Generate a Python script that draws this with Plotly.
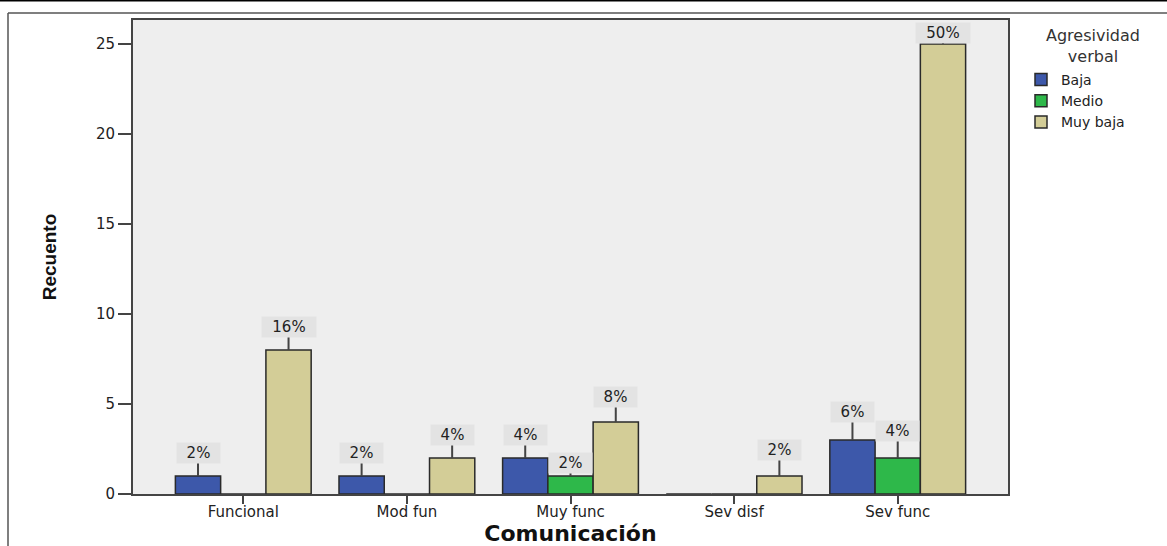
import plotly.graph_objects as go

# ---- data ----
categories = ["Funcional", "Mod fun", "Muy func", "Sev disf", "Sev func"]
series_names = ["Baja", "Medio", "Muy baja"]
baja = [1, 1, 2, 0, 3]
medio = [0, 0, 1, 0, 2]
muy_baja = [8, 2, 4, 1, 25]
y_ticks = [0, 5, 10, 15, 20, 25]
legend_title = "Agresividad<br>verbal"

series_values = [baja, medio, muy_baja]
colors = ["#3d58aa", "#2eb84a", "#d3cd97"]
total = sum(sum(s) for s in series_values)

# ---- layout constants ----
W, H = 1167, 546
L, R, T, B = 133, 159, 20, 52
PW, PH = W - L - R, H - T - B
BARGAP = 0.17
BW = (1 - BARGAP) / 3
FONT = "DejaVu Sans, Arial, sans-serif"


def px_x(p):
    return (p - L) / PW


def px_y(p):
    return (H - B - p) / PH


# label vertical offsets (px) between bar top and label centre
DEFAULT_RISE = 23
RISE = {("Muy func", "Medio"): 13, ("Sev func", "Muy baja"): 11,
        ("Sev func", "Baja"): 28, ("Sev func", "Medio"): 27,
        ("Sev disf", "Muy baja"): 26, ("Muy func", "Muy baja"): 25}

fig = go.Figure()
for name, vals, col in zip(series_names, series_values, colors):
    fig.add_trace(go.Bar(
        x=categories, y=vals, name=name,
        marker=dict(color=col, line=dict(color="#2a2a2a", width=1.5)),
        hoverinfo="x+y+name",
    ))

annotations = []
for si, (name, vals) in enumerate(zip(series_names, series_values)):
    for ci, v in enumerate(vals):
        if v == 0:
            continue
        pct = f"{round(v / total * 100)}%"
        rise = RISE.get((categories[ci], name), DEFAULT_RISE)
        annotations.append(dict(
            x=ci + (si - 1) * BW, y=v, xref="x", yref="y",
            text=pct, showarrow=True, arrowhead=0, arrowwidth=2,
            arrowcolor="#444444", ax=0, ay=-rise, standoff=0,
            bgcolor="#e3e3e3", borderpad=1,
            width=41 if len(pct) == 2 else 52,
            font=dict(family=FONT, size=15, color="#222222"),
        ))

# legend title (centred above the entries)
annotations.append(dict(
    x=px_x(1093), y=px_y(24), xref="paper", yref="paper",
    text=legend_title, showarrow=False, align="center",
    xanchor="center", yanchor="top",
    font=dict(family=FONT, size=16, color="#333333"),
))

shapes = [
    # top black rule
    dict(type="line", xref="paper", yref="paper",
         x0=px_x(0), x1=px_x(W), y0=px_y(0.5), y1=px_y(0.5),
         line=dict(color="#000000", width=2)),
    # outer frame top
    dict(type="line", xref="paper", yref="paper",
         x0=px_x(8), x1=px_x(W), y0=px_y(13), y1=px_y(13),
         line=dict(color="#555555", width=1.5)),
    # outer frame left
    dict(type="line", xref="paper", yref="paper",
         x0=px_x(8), x1=px_x(8), y0=px_y(13), y1=px_y(H),
         line=dict(color="#555555", width=1.5)),
]

fig.update_layout(
    width=W, height=H,
    margin=dict(l=L, r=R, t=T, b=B, autoexpand=False),
    paper_bgcolor="#ffffff", plot_bgcolor="#eeeeee",
    barmode="group", bargap=BARGAP, bargroupgap=0,
    font=dict(family=FONT, color="#222222"),
    annotations=annotations, shapes=shapes,
    legend=dict(
        x=px_x(1021), y=px_y(64), xanchor="left", yanchor="top",
        bgcolor="rgba(0,0,0,0)",
        font=dict(family=FONT, size=14, color="#222222"),
        tracegroupgap=0, itemwidth=30,
    ),
    xaxis=dict(
        type="category", range=[-0.674, 4.674],
        showline=True, mirror=True, linecolor="#444444", linewidth=2,
        ticks="outside", ticklen=8, tickwidth=2, tickcolor="#444444",
        ticklabelstandoff=-5,
        tickfont=dict(family=FONT, size=15, color="#222222"),
        showgrid=False, zeroline=False,
        title=dict(text="<b>Comunicación</b>", standoff=2,
                   font=dict(family=FONT, size=22, color="#111111")),
    ),
    yaxis=dict(
        range=[0, PH / 18], tickvals=y_ticks,
        showline=True, mirror=True, linecolor="#444444", linewidth=2,
        ticks="outside", ticklen=13, tickwidth=2, tickcolor="#444444",
        tickfont=dict(family=FONT, size=15, color="#222222"),
        showgrid=False, zeroline=False,
        title=dict(text="<b>Recuento</b>", standoff=34,
                   font=dict(family="Liberation Sans Narrow, Liberation Sans, Arial, sans-serif",
                             size=19, color="#111111")),
    ),
)

fig.write_html("out.html", config={"displayModeBar": False},
               post_script="document.body.style.margin='0';document.body.style.padding='0';")
